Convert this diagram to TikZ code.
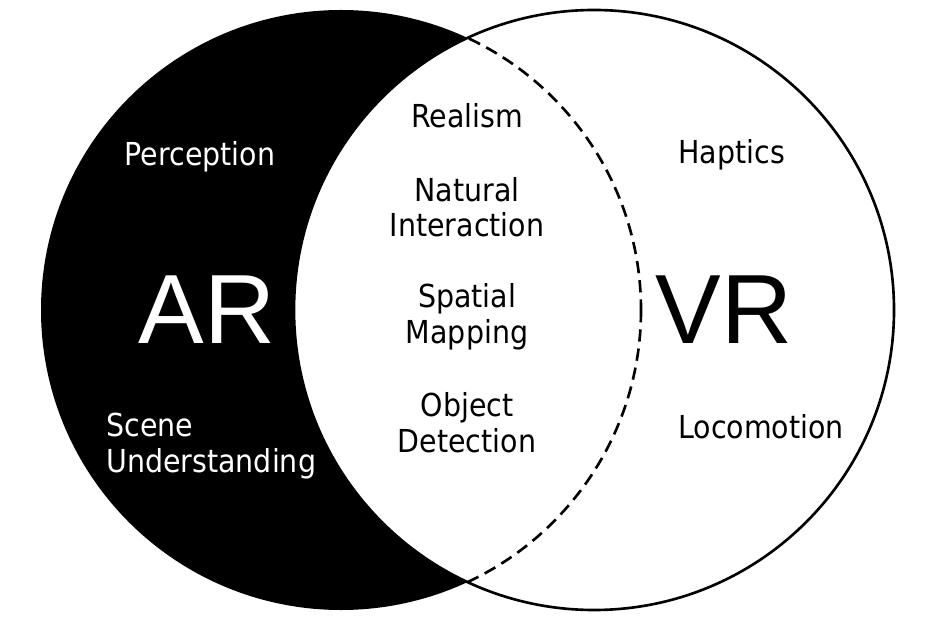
\documentclass[tikz,border=0pt]{standalone}
\usepackage{fontspec}
\setmainfont{DejaVu Sans}[FakeStretch=0.9]
\newfontfamily\bigfont{Liberation Sans}
\usetikzlibrary{positioning}
\definecolor{ink}{HTML}{000000}
\definecolor{paper}{HTML}{FFFFFF}

\begin{document}
\begin{tikzpicture}[
    x=0.02cm, y=-0.02cm,
    lbl/.style={font=\fontsize{18}{20}\selectfont, align=center, inner sep=0pt, anchor=base},
    big/.style={font=\bigfont\fontsize{56}{60}\selectfont, inner sep=0pt, anchor=base},
    rim/.style={line width=1.5pt},
]
\useasboundingbox (0,0) rectangle (935,624);
\fill[ink] (341,310) circle (300);
\filldraw[fill=paper, draw=ink, rim] (594,310) circle (300);
\begin{scope}
  \clip (594,310) circle (300);
  \draw[ink, rim, dash pattern=on 7pt off 4pt] (341,310) circle (300);
\end{scope}

\node[big, text=paper] (ar) at (207,343) {AR};
\node[big, text=ink] (vr) at (724,343) {VR};

\node[lbl, text=paper] (perception) at (200,166) {Perception};
\node[lbl, text=paper, anchor=base west, align=left] (scene) at (106,472) {Scene\\Understanding};

\node[lbl] (realism) at (467,128) {Realism};
\node[lbl] (natural) at (467,237) {Natural\\Interaction};
\node[lbl] (spatial) at (467,343) {Spatial\\Mapping};
\node[lbl] (object) at (467,452) {Object\\Detection};

\node[lbl, anchor=base west] (haptics) at (678,164) {Haptics};
\node[lbl, anchor=base west] (loco) at (678,438) {Locomotion};
\end{tikzpicture}
\end{document}
